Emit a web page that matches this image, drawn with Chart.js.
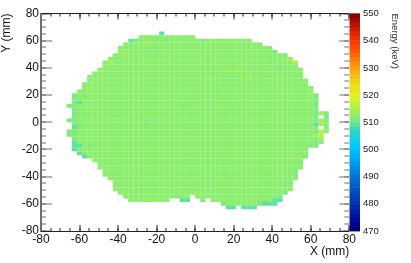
<!DOCTYPE html>
<html>
<head>
<meta charset="utf-8">
<style>
html, body { margin: 0; padding: 0; background: #fff; }
#wrap { position: relative; width: 411px; height: 263px; overflow: hidden; }
canvas { position: absolute; left: 0; top: 0; }
</style>
<script src="https://cdn.jsdelivr.net/npm/chart.js@4"></script>
</head>
<body>
<div id="wrap">
  <canvas id="mapChart" width="411" height="263"></canvas>
  <canvas id="barChart" width="411" height="263"></canvas>
</div>
<script>
// 60 x 60 bins over -80..80 mm, rows counted from the top
var binCount = 60;
var firstRow = 5;
var rowFirstCol = [23,19,17,16,15,15,14,13,12,12,11,10,9,9,8,8,7,6,6,6,5,6,6,6,5,6,6,5,5,6,6,6,6,7,8,10,11,11,12,12,13,14,14,14,15,16,17,35,36];
var rowLastCol  = [23,29,40,42,44,45,47,48,49,49,50,50,50,51,51,52,52,53,53,53,53,53,55,55,55,55,55,55,54,54,54,53,51,51,51,50,50,50,49,49,49,48,48,48,47,46,46,45,41];

// [col, row] bins that are empty inside the outline
var emptyBins = [[54,28],[54,31],[29,50],[25,51],[26,51],[29,51],[30,51],[32,51],[38,53]];

// average energy per column (keV)
var colEnergy = [512,512,512,512,512,511,511,512,512,512,512,512,512,512,512,512,512,512,512,512,
                 512,512,512,512,512,512,512,512,512,512,512,512,512,512,512,512,513,513,513,513,
                 513,513,513,513,513,513,513,513,513,513,512,512,512,511,514,512,512,512,512,512];

// [col, row, energy] bins that stand out from their column
var hotBins = [
  [23,5,509],[17,7,509],[18,7,510],[24,7,510],[31,7,510],[20,8,514],[15,10,514],[16,11,514],
  [13,13,514],[22,9,510],[36,15,514],[38,15,514],[39,15,514],[33,16,511],[40,17,514],[49,13,515],
  [48,12,514],[47,11,511],[45,10,511],[44,13,510],[46,15,510],[37,18,510],[52,22,514],[9,20,514],
  [8,22,510],[7,24,509],[6,23,510],[6,22,510],[5,25,510],[7,30,510],[6,31,509],[6,32,510],[5,32,511],
  [5,33,511],[6,35,509],[6,36,509],[6,37,509],[7,36,509],[7,38,509],[8,39,509],[9,36,510],
  [53,30,509],[54,32,515],[54,33,515],[54,34,514],[53,33,514],[54,35,513],[55,28,510],[55,27,510],
  [53,27,510],[52,36,510],[51,39,510],[27,51,509],[28,51,509],[26,50,510],[31,51,511],[22,51,514],
  [20,51,514],[36,53,509],[37,53,509],[39,53,509],[40,53,509],[41,53,509],[42,52,510],[43,52,509],
  [44,52,509],[45,52,509],[43,51,510],[45,51,509],[46,51,509],[46,50,510],[35,52,511],[30,49,514],
  [47,49,511],[48,46,511],[47,47,510],[49,43,511],[32,40,510],[20,30,510],[27,25,510],[34,21,511]
];

// palette, 470 at the bottom to 550 at the top, 50 bands
var zTicks = [470, 480, 490, 500, 510, 520, 530, 540, 550];
var palette = [
  "#00007f","#00048a","#000c94","#00149c","#001ca4","#0428aa","#0434b0","#043eb4","#0448b8","#0452be",
  "#045cc4","#0468cc","#0474d4","#0480dc","#008ce4","#0098ec","#00a4f2","#00b0f6","#00bcfa","#00c8fc",
  "#08ccf0","#18d0e0","#28d4d0","#38d8c0","#5de2a0","#80ea7e","#8cee6e","#9ef05a","#b0f246","#c2f436",
  "#d4f42c","#e4ee22","#eae420","#eee01c","#f4d01c","#f6c01a","#f8b018","#fa9e14","#fc8e10","#fe7c0c",
  "#ff6a08","#ff5806","#ff4604","#f83a04","#ee3004","#de2604","#cc1c04","#b81404","#a00c04","#880404"
];

function energyColor(val) {
  var i = Math.floor((val - 470) / 1.6);
  return palette[Math.max(0, Math.min(palette.length - 1, i))];
}

var binW = 160 / binCount;
var cells = [];
var cellColors = [];
var hotLookup = {};
hotBins.forEach(function (b) { hotLookup[b[0] + "_" + b[1]] = b[2]; });
var emptyLookup = {};
emptyBins.forEach(function (b) { emptyLookup[b[0] + "_" + b[1]] = true; });

for (var i = 0; i < rowFirstCol.length; i++) {
  var row = firstRow + i;
  for (var c = rowFirstCol[i]; c <= rowLastCol[i]; c++) {
    var key = c + "_" + row;
    if (emptyLookup[key]) continue;
    var energy = key in hotLookup ? hotLookup[key] : colEnergy[c];
    cells.push({ x: -80 + (c + 0.5) * binW, y: [80 - (row + 1) * binW, 80 - row * binW] });
    cellColors.push(energyColor(energy));
  }
}

var labelFont = { family: "'Liberation Sans', Arial, sans-serif", size: 12 };
var axisGrey = "#6e6e6e";

// axis sizes are fixed by hand so the plot area lands where it should
function fixSize(prop, px) {
  return function (scale) {
    scale[prop] = px;
    scale.paddingTop = scale.paddingBottom = scale.paddingLeft = scale.paddingRight = 0;
  };
}

// ticks point inward, the long and short ones need separate axes
// lineWidth 0 so bars starting at zero don't get trimmed by the zero line
function tickAxis(axis, position, step, tickLen, color, size, weight) {
  return {
    type: "linear",
    axis: axis,
    position: position,
    weight: weight,
    min: -80,
    max: 80,
    offset: false,
    border: { display: false },
    grid: { drawOnChartArea: false, drawTicks: true, offset: false, lineWidth: 0, tickLength: tickLen, tickColor: color, tickWidth: 1 },
    ticks: { display: false, stepSize: step, autoSkip: false },
    afterFit: fixSize(axis === "x" ? "height" : "width", size)
  };
}

var xMain = tickAxis("x", "bottom", 20, -6, "#222", 32, 0);
xMain.border = { display: true, color: "#222", width: 1 };
xMain.ticks = { display: true, stepSize: 20, autoSkip: false, maxRotation: 0, padding: 7, color: "#111", font: labelFont };
xMain.title = { display: true, text: "X (mm)", align: "end", color: "#111", font: { family: labelFont.family, size: 12, lineHeight: 1 }, padding: { top: 0, bottom: 5 } };

var yMain = tickAxis("y", "left", 20, -11, axisGrey, 41, 0);
yMain.border = { display: true, color: axisGrey, width: 2 };
yMain.ticks = { display: true, stepSize: 20, autoSkip: false, padding: 13, color: "#111", font: labelFont };
yMain.title = { display: true, text: "Y (mm)", align: "end", color: "#111", font: { family: labelFont.family, size: 12, lineHeight: 1 }, padding: { top: 1, bottom: 0 } };

var xTop = tickAxis("x", "top", 20, -6, "#222", 0, 0);
xTop.border = { display: true, color: "#222", width: 1 };

new Chart("mapChart", {
  type: "bar",
  data: {
    datasets: [{
      data: cells,
      backgroundColor: cellColors,
      borderWidth: 0,
      inflateAmount: 0.05,
      barPercentage: 1,
      categoryPercentage: 1,
      grouped: false,
      xAxisID: "x",
      yAxisID: "y"
    }]
  },
  options: {
    responsive: false,
    animation: false,
    events: [],
    layout: { padding: { top: 13.5, right: 61.7, bottom: 0, left: 0 } },
    plugins: { legend: { display: false }, tooltip: { enabled: false } },
    scales: {
      x: xMain,
      xMinor: tickAxis("x", "bottom", 5, -3, "#222", 0, -1),
      xTop: xTop,
      xTopMinor: tickAxis("x", "top", 5, -3, "#222", 0, -1),
      y: yMain,
      yMinor: tickAxis("y", "left", 5, -5, axisGrey, 0, -1),
      yRight: tickAxis("y", "right", 20, -10, axisGrey, 0, 0),
      yRightMinor: tickAxis("y", "right", 5, -5, axisGrey, 0, -1)
    }
  }
});

// colour bar, one floating bar per palette band
var bands = palette.map(function (col, i) {
  return { x: 0, y: [470 + i * 1.6, 470 + (i + 1) * 1.6] };
});

new Chart("barChart", {
  type: "bar",
  data: {
    datasets: [{
      data: bands,
      backgroundColor: palette,
      borderWidth: 0,
      barPercentage: 1,
      categoryPercentage: 1,
      grouped: false
    }]
  },
  options: {
    responsive: false,
    animation: false,
    events: [],
    layout: { padding: { top: 13.5, right: 0, bottom: 32, left: 349.5 } },
    plugins: { legend: { display: false }, tooltip: { enabled: false } },
    scales: {
      x: {
        type: "linear",
        min: -1,
        max: 1,
        display: false
      },
      y: {
        type: "linear",
        position: "right",
        min: 470,
        max: 550,
        border: { display: false },
        grid: { drawOnChartArea: false, lineWidth: 0, tickLength: -10, tickColor: "#333", tickWidth: 1 },
        ticks: {
          stepSize: 10,
          autoSkip: false,
          padding: 13,
          color: "#222",
          font: { family: labelFont.family, size: 9.5 },
          callback: function (v) { return zTicks.indexOf(v) >= 0 ? String(v) : ""; }
        },
        title: {
          display: true,
          text: "Energy (keV)",
          align: "end",
          color: "#333",
          font: { family: labelFont.family, size: 9.5, lineHeight: 1 },
          padding: { top: 12, bottom: 0 }
        },
        afterFit: fixSize("width", 51)
      }
    }
  }
});
</script>
</body>
</html>
